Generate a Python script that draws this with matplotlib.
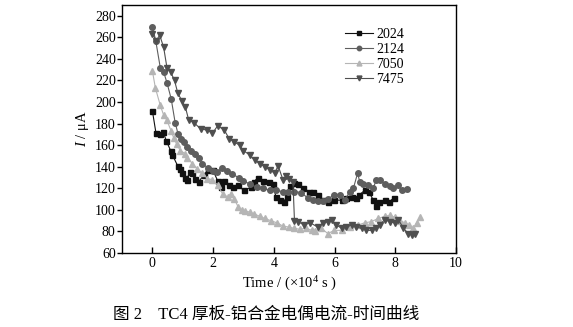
import numpy as np
import matplotlib.pyplot as plt

# 数据准备 (时间单位 ×10^4 s, 电流 μA)
x_2024 = [0.0, 0.12, 0.25, 0.36, 0.46, 0.6, 0.66, 0.83, 0.91, 0.99, 1.06, 1.13, 1.23, 1.32,
          1.42, 1.52, 1.69, 1.82, 1.99, 2.15, 2.25, 2.35, 2.52, 2.65, 2.81, 3.01, 3.25, 3.34,
          3.48, 3.64, 3.84, 3.97, 4.07, 4.19, 4.32, 4.42, 4.54, 4.67, 4.8, 4.97, 5.17, 5.3,
          5.46, 5.63, 5.79, 5.99, 6.23, 6.39, 6.56, 6.72, 6.82, 6.99, 7.12, 7.28, 7.38, 7.48,
          7.65, 7.78, 7.95]
y_2024 = [192, 171, 170, 172, 164, 155, 151, 141, 138, 134, 130, 128, 135, 134,
          129, 126, 132, 137, 137, 127, 121, 127, 123, 121, 123, 118, 121, 126,
          130, 127, 126, 124, 112, 109, 107, 112, 122, 125, 124, 120, 117, 117,
          114, 109, 107, 109, 109, 111, 112, 111, 114, 118, 117, 109, 104, 107,
          109, 107, 111]

x_2124 = [0.0, 0.11, 0.26, 0.37, 0.48, 0.62, 0.75, 0.85, 0.95, 1.04, 1.15, 1.26, 1.42, 1.52,
          1.65, 1.82, 1.99, 2.13, 2.3, 2.45, 2.63, 2.85, 3.0, 3.2, 3.44, 3.65, 3.87, 4.07,
          4.3, 4.47, 4.68, 4.9, 5.12, 5.28, 5.45, 5.62, 5.78, 5.99, 6.17, 6.34, 6.5, 6.62,
          6.76, 6.83, 6.94, 7.11, 7.27, 7.38, 7.49, 7.66, 7.82, 7.93, 8.1, 8.21, 8.38]
y_2124 = [270, 257, 232, 228, 218, 203, 181, 170, 166, 163, 158, 155, 152, 148,
          143, 139, 136, 135, 139, 136, 133, 130, 127, 124, 121, 120, 118, 118,
          117, 117, 117, 116, 111, 109, 108, 108, 110, 114, 114, 109, 117, 120,
          134, 126, 124, 123, 120, 128, 128, 124, 122, 120, 123, 118, 119]

x_7050 = [0.0, 0.1, 0.26, 0.37, 0.48, 0.62, 0.7, 0.8, 0.92, 1.09, 1.15, 1.32, 1.48, 1.65,
          1.81, 1.97, 2.15, 2.31, 2.48, 2.6, 2.7, 2.82, 2.94, 3.06, 3.2, 3.36, 3.55, 3.7,
          3.9, 4.1, 4.3, 4.5, 4.65, 4.85, 5.05, 5.25, 5.35, 5.56, 5.78, 5.99, 6.23, 6.5,
          6.78, 6.99, 7.2, 7.44, 7.65, 7.82, 8.0, 8.15, 8.32, 8.45, 8.6, 8.7, 8.82]
y_7050 = [229, 213, 197, 188, 183, 173, 167, 161, 155, 152, 148, 143, 138, 134,
          129, 128, 123, 115, 112, 115, 110, 103, 100, 99, 98, 96, 94, 92,
          90, 88, 85, 84, 83, 82, 83, 81, 80, 83, 78, 81, 81, 84,
          86, 88, 89, 92, 94, 95, 93, 90, 88, 86, 83, 88, 93]

x_7475 = [0.0, 0.13, 0.24, 0.37, 0.48, 0.6, 0.73, 0.84, 0.98, 1.09, 1.2, 1.37, 1.59, 1.81,
          1.98, 2.15, 2.37, 2.53, 2.7, 2.87, 3.0, 3.2, 3.37, 3.54, 3.7, 3.87, 4.03, 4.14,
          4.3, 4.4, 4.51, 4.63, 4.68, 4.8, 5.0, 5.2, 5.45, 5.62, 5.78, 5.9, 6.06, 6.23,
          6.39, 6.56, 6.72, 6.89, 7.05, 7.22, 7.38, 7.49, 7.65, 7.82, 7.98, 8.1, 8.27, 8.43,
          8.54, 8.65]
y_7475 = [263, 257, 262, 251, 232, 228, 220, 208, 201, 195, 183, 181, 175, 174,
          171, 178, 174, 166, 163, 160, 155, 151, 146, 143, 140, 137, 134, 141,
          128, 131, 129, 126, 90, 89, 86, 88, 84, 88, 89, 91, 86, 83,
          84, 86, 84, 83, 81, 81, 83, 86, 91, 89, 88, 91, 83, 78,
          77, 78]

series = [
    ('2024', x_2024, y_2024, 's', '#111111', 3.6),
    ('2124', x_2124, y_2124, 'o', '#5e5e5e', 4.0),
    ('7050', x_7050, y_7050, '^', '#b5b5b5', 4.4),
    ('7475', x_7475, y_7475, 'v', '#4f4f4f', 4.4),
]

plt.rcParams['font.family'] = ['Liberation Serif', 'Noto Sans CJK SC']
plt.rcParams['mathtext.fontset'] = 'custom'
plt.rcParams['mathtext.rm'] = 'Liberation Serif'
plt.rcParams['mathtext.it'] = 'Liberation Serif:italic'

fig = plt.figure(figsize=(5.73, 3.27), dpi=100)
ax = fig.add_axes([122 / 573, 1 - 253 / 327, 334 / 573, 248 / 327])

for name, xs, ys, mk, c, ms in series:
    ax.plot(xs, ys, '-', color=c, lw=0.8, marker=mk, markersize=ms,
            markeredgecolor=c, markerfacecolor=c, label=name)

ax.set_xlim(-1, 10)
ax.set_ylim(60, 290)
ax.set_xticks(np.arange(0, 11, 2))
ax.set_yticks(np.arange(60, 281, 20))
ax.tick_params(axis='x', direction='in', length=4, width=1, labelsize=10, pad=3)
ax.tick_params(axis='y', direction='out', length=3.5, width=1, labelsize=10, pad=1)
for sp in ax.spines.values():
    sp.set_linewidth(1)

ax.set_xlabel('Time / (×10$^4$ s )', fontsize=10.5, labelpad=3)
ax.set_ylabel('$I$ / μA', fontsize=10.5, labelpad=3)

ax.legend(loc='upper left', bbox_to_anchor=(0.648, 0.935), frameon=False,
          fontsize=10, handlelength=2.0, handletextpad=0.2, labelspacing=0.15,
          borderpad=0, markerscale=0.8)

fig.text(0.464, 0.037, '图 2    TC4 厚板-铝合金电偶电流-时间曲线',
         ha='center', va='center', fontsize=12)

fig.savefig('out.png', dpi=100)
